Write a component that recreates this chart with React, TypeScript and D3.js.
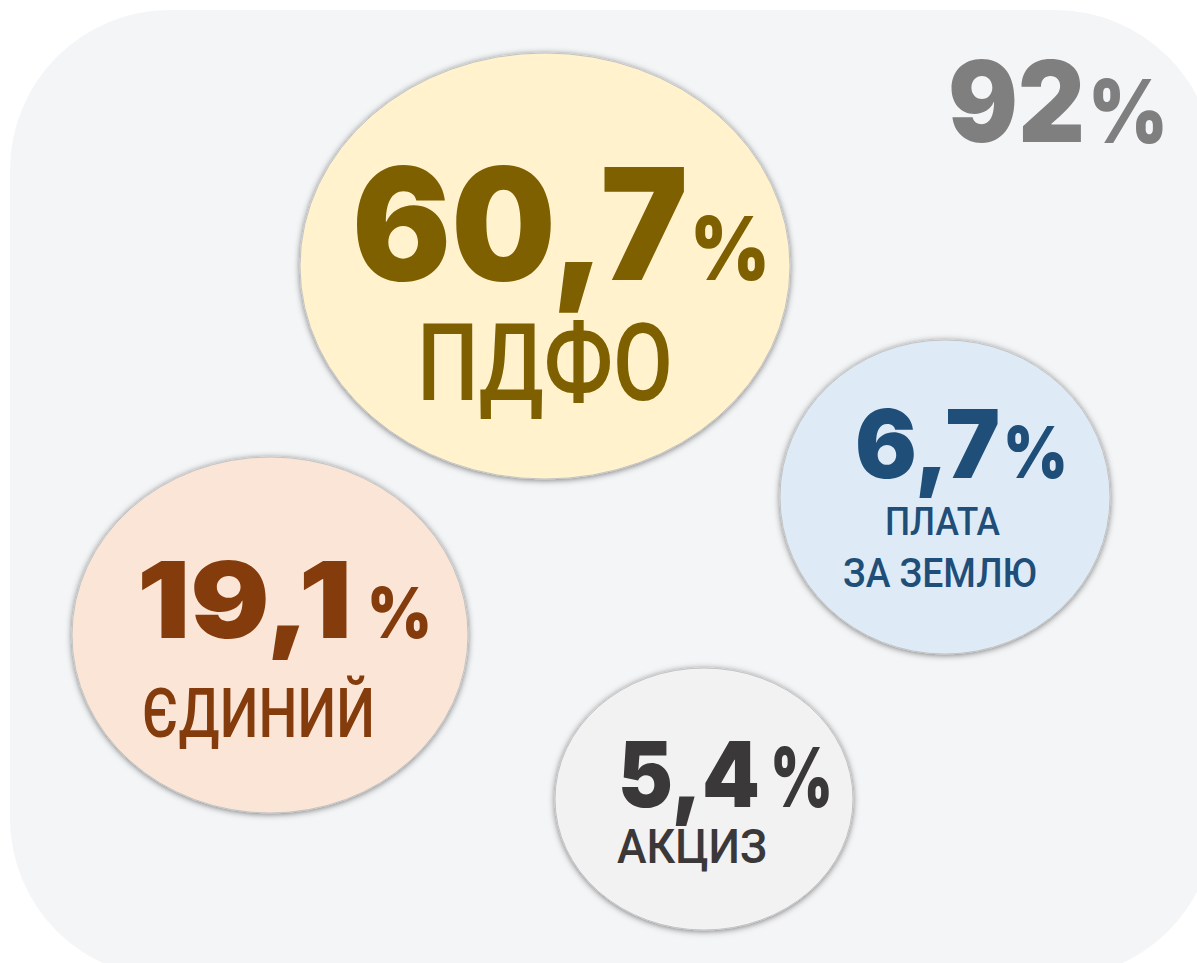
import React from 'react';
import * as d3 from 'd3';

// --- data ---
const taxNames = ['ПДФО', 'ЄДИНИЙ', 'ПЛАТА|ЗА ЗЕМЛЮ', 'АКЦИЗ'];
const taxShares = [60.7, 19.1, 6.7, 5.4];
const totalShare = 92;

// --- layout (positions/sizes per bubble, same order as data) ---
const bubbles = [
  { cx: 545, cy: 266, rx: 245, ry: 213, fill: '#fff2cc', color: '#7f6000',
    num: { x: 352, y: 280, w: 336, fs: 156 }, pct: { x: 690, w: 80, fs: 88 },
    lines: [{ x: 417, y: 400, w: 256, fs: 107 }] },
  { cx: 270, cy: 635, rx: 198, ry: 178, fill: '#fbe5d6', color: '#843c0c',
    num: { x: 137, y: 638, w: 215, fs: 106 }, pct: { x: 367, w: 65, fs: 70 },
    lines: [{ x: 142, y: 737, w: 233, fs: 68 }] },
  { cx: 945, cy: 497, rx: 165, ry: 157, fill: '#deebf7', color: '#1f4e79',
    num: { x: 855, y: 478, w: 145, fs: 95 }, pct: { x: 1003, w: 65, fs: 72 },
    lines: [{ x: 885, y: 535, w: 115, fs: 38 }, { x: 843, y: 587, w: 194, fs: 41 }] },
  { cx: 704, cy: 799, rx: 149, ry: 131, fill: '#f2f2f2', color: '#3a3838',
    num: { x: 618, y: 807, w: 142, fs: 91 }, pct: { x: 770, w: 63, fs: 82 },
    lines: [{ x: 617, y: 863, w: 150, fs: 49 }] },
];

const W = 1197;
const H = 963;
const heavy = "'Inter', 'Lato', 'Roboto', 'DejaVu Sans', sans-serif";
const narrow = "'Roboto', 'Liberation Sans', sans-serif";

const fmt = d3.formatLocale({ decimal: ',', thousands: ' ', grouping: [3], currency: ['', ''] }).format('.1f');

export default function App() {
  return (
    <svg width={W} height={H} style={{ position: 'absolute', left: 0, top: 0 }}>
      <defs>
        <filter id="sh" x="-20%" y="-20%" width="140%" height="140%">
          <feDropShadow dx="0" dy="1" stdDeviation="3" floodColor="#000" floodOpacity="0.5" />
        </filter>
      </defs>
      <rect x={10} y={10} width={1205} height={968} rx={160} ry={160} fill="#f4f5f7" />

      {bubbles.map((b, i) => (
        <g key={i}>
          <ellipse cx={b.cx} cy={b.cy} rx={b.rx} ry={b.ry} fill={b.fill}
            stroke="#c4c4c4" strokeWidth={1} filter="url(#sh)" />
          <text x={b.num.x} y={b.num.y} fontFamily={heavy} fontWeight={900} fontSize={b.num.fs}
            fill={b.color} textLength={b.num.w} lengthAdjust="spacingAndGlyphs">
            {fmt(taxShares[i])}
          </text>
          <text x={b.pct.x} y={b.num.y} fontFamily={heavy} fontWeight={900} fontSize={b.pct.fs}
            fill={b.color} textLength={b.pct.w} lengthAdjust="spacingAndGlyphs">
            %
          </text>
          {taxNames[i].split('|').map((t, j) => (
            <text key={j} x={b.lines[j].x} y={b.lines[j].y} fontFamily={narrow} fontWeight={500}
              fontSize={b.lines[j].fs} fill={b.color}
              textLength={b.lines[j].w} lengthAdjust="spacingAndGlyphs">
              {t}
            </text>
          ))}
        </g>
      ))}

      <text x={948} y={142} fontFamily={heavy} fontWeight={900} fontSize={112} fill="#7f7f7f"
        textLength={137} lengthAdjust="spacingAndGlyphs">
        {totalShare}
      </text>
      <text x={1088} y={143} fontFamily={heavy} fontWeight={900} fontSize={88} fill="#7f7f7f"
        textLength={80} lengthAdjust="spacingAndGlyphs">
        %
      </text>
    </svg>
  );
}
